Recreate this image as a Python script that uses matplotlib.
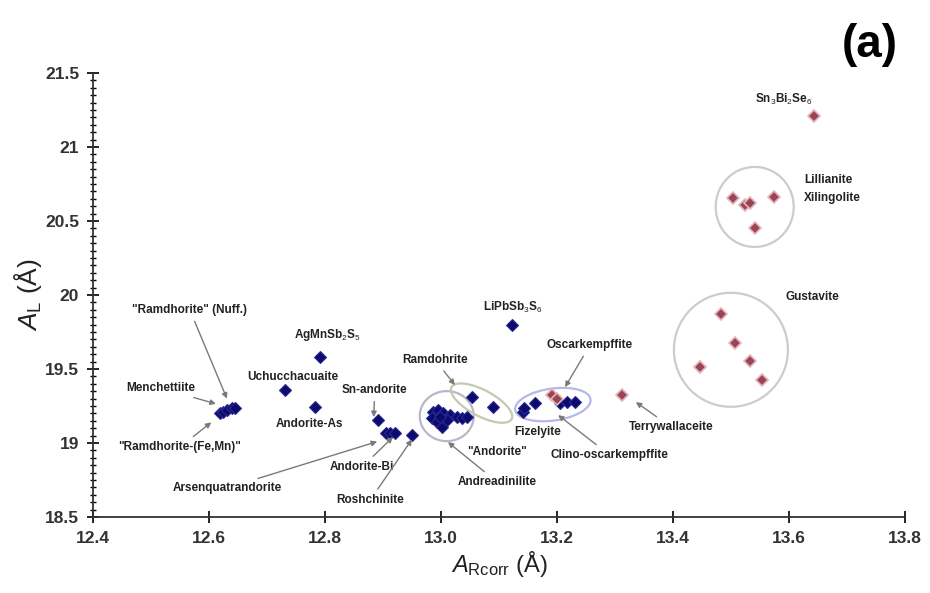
import numpy as np
import matplotlib
matplotlib.use('Agg')
import matplotlib.pyplot as plt
from matplotlib.patches import Polygon

plt.rcParams['font.family'] = ['Liberation Sans', 'DejaVu Sans']
plt.rcParams['mathtext.fontset'] = 'custom'
plt.rcParams['mathtext.rm'] = 'Liberation Sans'
plt.rcParams['mathtext.it'] = 'Liberation Sans:italic'
plt.rcParams['mathtext.bf'] = 'Liberation Sans:bold'

# andorite-type phases (dark blue)
blue_x = [12.619, 12.625, 12.631, 12.640, 12.645,          # Menchettiite / Ramdohrite-(Fe,Mn)
          12.791, 12.731, 12.783,                          # AgMnSb2S5, Uchucchacuaite, Andorite-As
          12.891, 12.905, 12.912, 12.921, 12.950,          # Sn-andorite, Andorite-Bi, Roshchinite
          12.986, 12.995, 13.003, 12.984, 12.993, 13.002,  # "Andorite" cluster
          13.016, 13.028, 13.036, 13.045, 13.010, 12.998,
          13.053, 13.090,                                  # Ramdohrite
          13.122,                                          # LiPbSb3S6
          13.141, 13.143, 13.162,                          # Fizelyite
          13.205, 13.217, 13.231]                          # Clino-oscarkempffite
blue_y = [19.203, 19.210, 19.223, 19.236, 19.236,
          19.581, 19.358, 19.243,
          19.155, 19.070, 19.068, 19.068, 19.054,
          19.210, 19.223, 19.203, 19.169, 19.142, 19.108,
          19.189, 19.176, 19.169, 19.176, 19.155, 19.176,
          19.311, 19.243,
          19.797,
          19.210, 19.236, 19.270,
          19.270, 19.277, 19.277]

# lillianite-type phases (dark pink)
pink_x = [13.191, 13.200, 13.312, 13.643,
          13.503, 13.524, 13.533, 13.574, 13.541,
          13.483, 13.507, 13.533, 13.553, 13.447]
pink_y = [19.324, 19.300, 19.324, 21.209,
          20.655, 20.608, 20.622, 20.662, 20.453,
          19.872, 19.676, 19.554, 19.426, 19.514]

xlim = (12.4, 13.8)
ylim = (18.5, 21.5)
xticks = [12.4, 12.6, 12.8, 13.0, 13.2, 13.4, 13.6, 13.8]
yticks = [18.5, 19, 19.5, 20, 20.5, 21, 21.5]

fig = plt.figure(figsize=(9.3, 5.93), dpi=100)
ax = fig.add_axes([0.1, 0.128, 0.873, 0.749])
ax.set_xlim(xlim)
ax.set_ylim(ylim)

# group outlines
W = 0.873 * 930
H = 0.749 * 593
sx = W / (xlim[1] - xlim[0])
sy = H / (ylim[1] - ylim[0])


def outline(cx, cy, a, b, ang, color):
    t = np.linspace(0, 2 * np.pi, 200)
    th = np.radians(ang)
    px = a * np.cos(t) * np.cos(th) - b * np.sin(t) * np.sin(th)
    py = a * np.cos(t) * np.sin(th) + b * np.sin(t) * np.cos(th)
    pts = np.column_stack([cx + px / sx, cy + py / sy])
    ax.add_patch(Polygon(pts, closed=True, fill=False, edgecolor=color, lw=1.6, zorder=1))


outline(13.010, 19.182, 27, 25, 0, '#b8b8c8')
outline(13.070, 19.270, 34, 13, -28, '#c4cab0')
outline(13.193, 19.260, 38, 16, 8, '#b8b8e8')
outline(13.541, 20.595, 39, 40, 0, '#cccccc')
outline(13.500, 19.630, 57, 57, 0, '#cccccc')

ax.plot(blue_x, blue_y, 'D', color='#0b0b6e', ms=6.5, mec='#2a2a90', mew=0.8, zorder=3)
ax.plot(pink_x, pink_y, 'D', color='#9a4456', ms=6.5, mec='#e6b4bc', mew=1.2, zorder=3)

# labels: text, text position, arrow tip (or None)
labels = [
    ('"Ramdhorite" (Nuff.)', (12.567, 19.899), (12.631, 19.300)),
    ('Menchettiite', (12.516, 19.372), (12.612, 19.265)),
    ('"Ramdhorite-(Fe,Mn)"', (12.550, 18.973), (12.604, 19.140)),
    ('AgMnSb$_2$S$_5$', (12.805, 19.730), None),
    ('Uchucchacuaite', (12.745, 19.446), None),
    ('Andorite-As', (12.774, 19.128), None),
    ('Sn-andorite', (12.886, 19.358), (12.884, 19.175)),
    ('Arsenquatrandorite', (12.631, 18.696), (12.890, 19.010)),
    ('Andorite-Bi', (12.864, 18.838), (12.917, 19.040)),
    ('Roshchinite', (12.878, 18.615), (12.950, 19.025)),
    ('Ramdohrite', (12.990, 19.561), (13.024, 19.392)),
    ('"Andorite"', (13.097, 18.939), None),
    ('Andreadinilite', (13.097, 18.736), (13.012, 19.007)),
    ('LiPbSb$_3$S$_6$', (13.124, 19.919), None),
    ('Oscarkempffite', (13.257, 19.662), (13.214, 19.378)),
    ('Fizelyite', (13.167, 19.074), None),
    ('Clino-oscarkempffite', (13.291, 18.919), (13.202, 19.189)),
    ('Terrywallaceite', (13.397, 19.108), (13.336, 19.277)),
    ('Sn$_3$Bi$_2$Se$_6$', (13.591, 21.318), None),
    ('Gustavite', (13.640, 19.986), None),
]
for txt, pos, tip in labels:
    if tip is None:
        ax.text(pos[0], pos[1], txt, fontsize=8.5, fontweight='bold', color='#222222',
                ha='center', va='center', zorder=4)
    else:
        ax.annotate(txt, xy=tip, xytext=pos, fontsize=8.5, fontweight='bold', color='#222222',
                    ha='center', va='center', zorder=4,
                    arrowprops=dict(arrowstyle='-|>', color='#7a7a7a', lw=1.0,
                                    mutation_scale=8, shrinkA=2, shrinkB=0))
ax.text(13.626, 20.777, 'Lillianite', fontsize=8.5, fontweight='bold', color='#222222',
        ha='left', va='center')
ax.text(13.626, 20.655, 'Xilingolite', fontsize=8.5, fontweight='bold', color='#222222',
        ha='left', va='center')

ax.set_xticks(xticks)
ax.set_xticklabels(['%.1f' % v for v in xticks])
ax.set_yticks(yticks)
ax.set_yticklabels(['%g' % v for v in yticks])
ax.set_yticks(np.arange(18.5, 21.51, 0.05), minor=True)
ax.tick_params(axis='both', which='major', direction='inout', length=8, width=1.2,
               labelsize=12.5, pad=6)
ax.tick_params(axis='y', which='minor', direction='inout', length=4, width=1)
for lab in ax.get_xticklabels() + ax.get_yticklabels():
    lab.set_fontweight('bold')
    lab.set_color('#333333')

ax.spines['top'].set_visible(False)
ax.spines['right'].set_visible(False)
ax.spines['left'].set_linewidth(1.3)
ax.spines['bottom'].set_linewidth(1.3)
ax.spines['left'].set_color('#333333')
ax.spines['bottom'].set_color('#333333')

ax.set_xlabel(r'$A_{\mathrm{Rcorr}}$ (Å)', fontsize=17, color='#222222', labelpad=2)
ax.set_ylabel(r'$A_{\mathrm{L}}$ (Å)', fontsize=19, color='#222222', labelpad=1)

fig.text(0.935, 0.924, '(a)', fontsize=33, fontweight='bold', ha='center', va='center')

fig.savefig('out.png', dpi=100)
